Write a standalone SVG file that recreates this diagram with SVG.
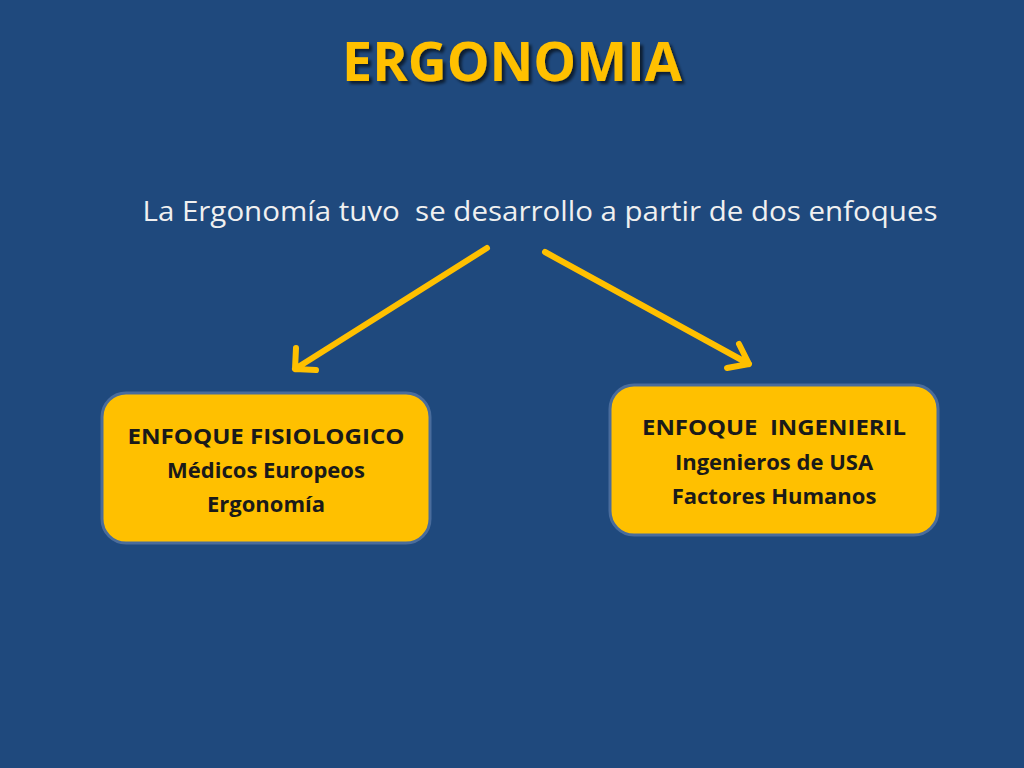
<svg xmlns="http://www.w3.org/2000/svg" width="1024" height="768" viewBox="0 0 1024 768">
<defs>
<filter id="sh" x="-10%" y="-20%" width="120%" height="150%"><feDropShadow dx="3" dy="3" stdDeviation="1.5" flood-color="#000" flood-opacity="0.6"/></filter>
<style>
.box{fill:#FFC000;stroke:#4A6C9B;stroke-width:3}
.bt{font-family:"Open Sans","Liberation Sans",sans-serif;font-weight:bold;font-size:22px;fill:#1a1a1a;text-anchor:middle}
.arr{stroke:#FFC000;stroke-width:6;fill:none;stroke-linecap:round;stroke-linejoin:round}
</style>
</defs>
<rect width="1024" height="768" fill="#1F497D"/>
<g id="title">
<text x="512" y="81" font-family="'Open Sans','Liberation Sans',sans-serif" font-weight="bold" font-size="54" fill="#FFC000" text-anchor="middle" textLength="340" lengthAdjust="spacingAndGlyphs" filter="url(#sh)">ERGONOMIA</text>
</g>
<g id="subtitle">
<text x="540" y="221" font-family="'Open Sans','Liberation Sans',sans-serif" font-size="27" fill="#F0F0F0" text-anchor="middle" textLength="795" lengthAdjust="spacingAndGlyphs" xml:space="preserve">La Ergonomía tuvo  se desarrollo a partir de dos enfoques</text>
</g>
<g id="connectors">
<path class="arr" d="M487 248 L295 369 M296 348 L295 369 L316 370"/>
<path class="arr" d="M545 252 L749 364 M727 368 L749 364 L739 344"/>
</g>
<g id="left">
<rect class="box" x="102" y="393" width="328" height="150" rx="24"/>
<text class="bt" x="266" y="444" textLength="277" lengthAdjust="spacingAndGlyphs">ENFOQUE FISIOLOGICO</text>
<text class="bt" x="266" y="478">Médicos Europeos</text>
<text class="bt" x="266" y="512">Ergonomía</text>
</g>
<g id="right">
<rect class="box" x="610" y="385" width="328" height="150" rx="24"/>
<text class="bt" x="774" y="435" textLength="264" lengthAdjust="spacingAndGlyphs" xml:space="preserve">ENFOQUE  INGENIERIL</text>
<text class="bt" x="774" y="470">Ingenieros de USA</text>
<text class="bt" x="774" y="504">Factores Humanos</text>
</g>
</svg>
